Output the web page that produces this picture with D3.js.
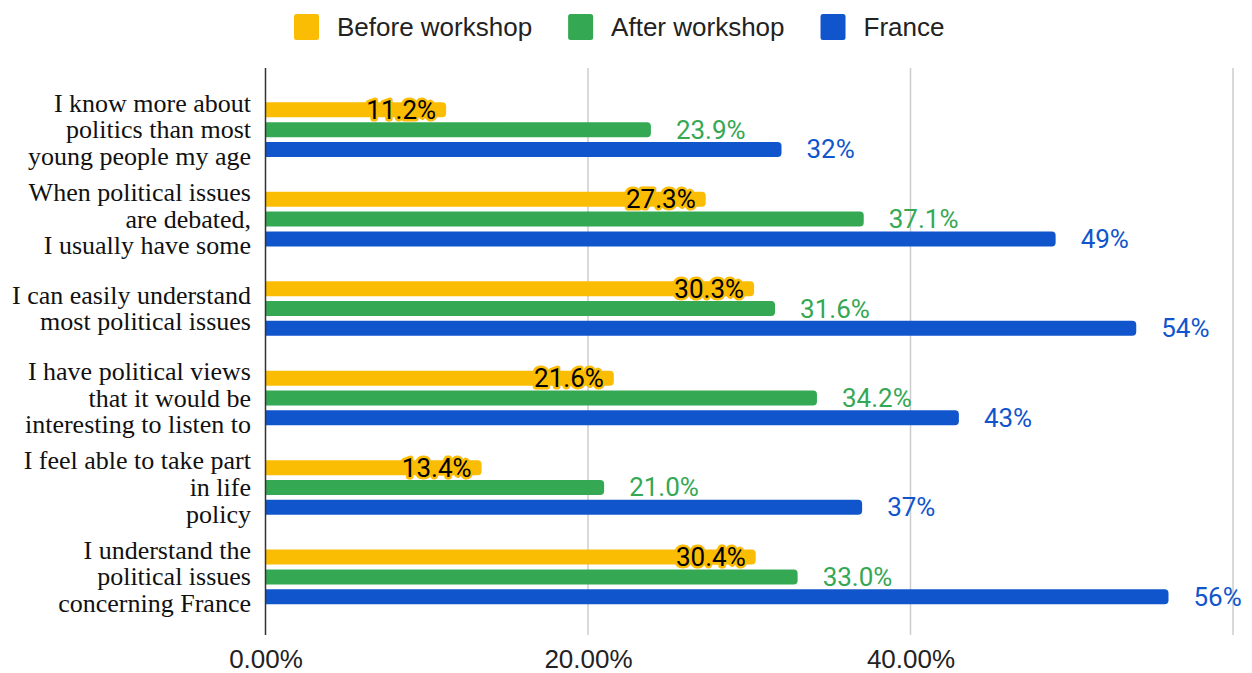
<!DOCTYPE html>
<html><head><meta charset="utf-8">
<script src="https://cdn.jsdelivr.net/npm/d3@7"></script>
<style>body{margin:0;background:#fff}svg{display:block}</style>
</head><body><svg id="c" width="1252" height="673"></svg>
<script>
const categories = [
  ["I know more about","politics than most","young people my age"],
  ["When political issues","are debated,","I usually have some"],
  ["I can easily understand","most political issues"],
  ["I have political views","that it would be","interesting to listen to"],
  ["I feel able to take part","in life","policy"],
  ["I understand the","political issues","concerning France"]
];
const seriesNames = ["Before workshop","After workshop","France"];
const before = [11.2, 27.3, 30.3, 21.6, 13.4, 30.4];
const after = [23.9, 37.1, 31.6, 34.2, 21.0, 33.0];
const france = [32, 49, 54, 43, 37, 56];
const beforeLabels = ["11.2%","27.3%","30.3%","21.6%","13.4%","30.4%"];
const afterLabels = ["23.9%","37.1%","31.6%","34.2%","21.0%","33.0%"];
const franceLabels = ["32%","49%","54%","43%","37%","56%"];
const xTicks = [0, 20, 40, 60];
const xTickLabels = ["0.00%","20.00%","40.00%",""];
const colors = ["#fbbc04","#34a853","#1155cc"];

const svg = d3.select("#c");
const x = d3.scaleLinear().domain([0,60]).range([265.5,1233]);
const idx = d3.range(categories.length);
const y = d3.scaleBand().domain(idx).range([85,621.7]);
const yi = d3.scalePoint().domain([0,1,2]).range([-19.9,19.7]);
const barH = 15, r = 4;
const plotTop = 68, plotBottom = 635;

// gridlines
svg.append("g").selectAll("line").data(xTicks.filter(d=>d>0)).join("line")
  .attr("x1",d=>x(d)).attr("x2",d=>x(d)).attr("y1",plotTop).attr("y2",plotBottom)
  .attr("stroke","#cccccc").attr("stroke-width",1.5);

// x tick labels
const xAxis = d3.axisBottom(x).tickValues(xTicks).tickSize(0).tickFormat((d,i)=>xTickLabels[i]);
const gx = svg.append("g").attr("transform",`translate(0,${plotBottom})`).call(xAxis);
gx.select(".domain").remove();
gx.selectAll("text").attr("font-family","'Liberation Sans', Arial, sans-serif")
  .attr("font-size",26).attr("fill","#222").attr("dy",null).attr("y",32.5);

function barPath(x0,x1,yc){
  const t = yc-barH/2, b = yc+barH/2;
  const rr = Math.min(r,(x1-x0));
  return `M${x0},${t}H${x1-rr}Q${x1},${t} ${x1},${t+rr}V${b-rr}Q${x1},${b} ${x1-rr},${b}H${x0}Z`;
}

const all = [before, after, france];
const labels = [beforeLabels, afterLabels, franceLabels];
all.forEach((vals,s)=>{
  const g = svg.append("g");
  g.selectAll("path").data(vals).join("path")
    .attr("d",(d,i)=>barPath(x(0),x(d),y(i)+y.bandwidth()/2+yi(s)))
    .attr("fill",colors[s]);
});
// labels
all.forEach((vals,s)=>{
  const g = svg.append("g").attr("font-family","Roboto, sans-serif").attr("font-size",26);
  const t = g.selectAll("text").data(vals).join("text")
    .attr("y",(d,i)=>y(i)+y.bandwidth()/2+yi(s))
    .attr("dominant-baseline","central")
    .text((d,i)=>labels[s][i]);
  if(s===0){
    t.attr("x",d=>x(d)-10).attr("text-anchor","end").attr("fill","#000")
     .attr("stroke",colors[0]).attr("stroke-width",5).attr("stroke-linejoin","round")
     .attr("paint-order","stroke");
  } else {
    t.attr("x",d=>x(d)+25).attr("fill",colors[s]);
  }
});

// y axis line
svg.append("line").attr("x1",x(0)).attr("x2",x(0)).attr("y1",plotTop).attr("y2",plotBottom)
  .attr("stroke","#333").attr("stroke-width",1.5);

// category labels
const lh = 26.7;
const cg = svg.append("g").attr("font-family","'Liberation Serif','Times New Roman',serif").attr("font-size",26).attr("fill","#111");
categories.forEach((lines,i)=>{
  const cy = y(i)+y.bandwidth()/2;
  const t = cg.append("text").attr("text-anchor","end");
  lines.forEach((ln,j)=>{
    t.append("tspan").attr("x",251).attr("y",cy+(j-(lines.length-1)/2)*lh).attr("dominant-baseline","central").text(ln);
  });
});

// legend
const lg = svg.append("g").attr("font-family","'Liberation Sans', Arial, sans-serif").attr("font-size",26);
let lx = 294;
seriesNames.forEach((n,s)=>{
  lg.append("rect").attr("x",lx).attr("y",14).attr("width",25).attr("height",26).attr("rx",2.5).attr("fill",colors[s]);
  const t = lg.append("text").attr("x",lx+43).attr("y",27).attr("dominant-baseline","central").attr("fill","#222").text(n);
  lx = lx + 43 + t.node().getComputedTextLength() + 36;
});
</script>
</body></html>
